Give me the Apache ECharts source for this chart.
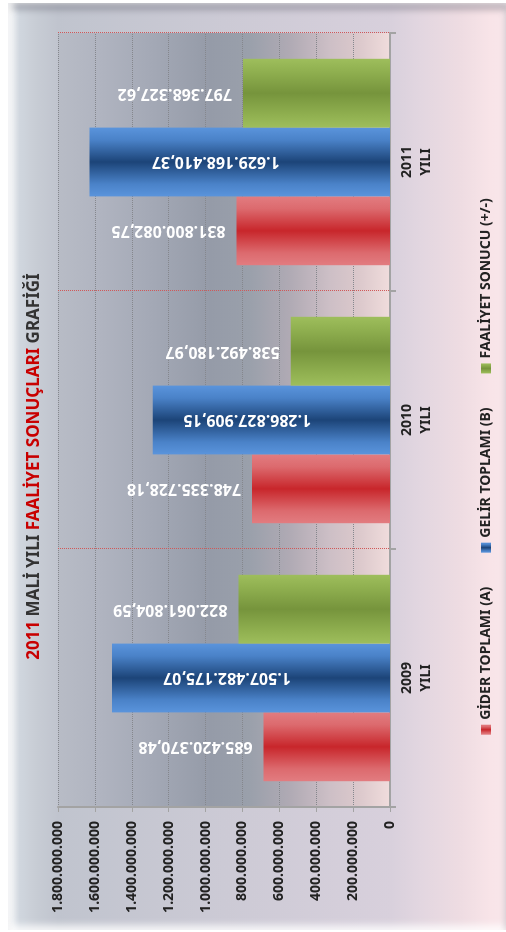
<!DOCTYPE html>
<html>
<head>
<meta charset="utf-8">
<script src="https://cdn.jsdelivr.net/npm/echarts@6/dist/echarts.min.js"></script>
<style>
  html, body { margin: 0; padding: 0; background: #fff; }
  body { width: 506px; height: 932px; position: relative; overflow: hidden; }
  /* the chart is laid out as a 932x506 column chart, then turned a quarter to the left */
  #wrap {
    position: absolute; left: -213px; top: 213px;
    width: 932px; height: 506px; background: #fff;
    transform: rotate(-90deg);
  }
  #chart { position: absolute; left: 2px; top: 8px; width: 927px; height: 498px; }
  #bevel {
    position: absolute; left: 2px; top: 8px; width: 927px; height: 498px; pointer-events: none;
    box-shadow: inset 0 5px 6px rgba(255,255,255,0.75), inset -7px 0 6px rgba(80,80,95,0.35), inset 6px 0 6px rgba(255,255,255,0.6);
  }
</style>
</head>
<body>
<div id="wrap">
  <div id="chart"></div>
  <div id="bevel"></div>
</div>
<script>
const years = ['2009', '2010', '2011']
const seriesNames = ['GİDER TOPLAMI (A)', 'GELİR TOPLAMI (B)', 'FAALİYET SONUCU (+/-)']
const giderValues = [685420370.48, 748335728.18, 831800082.75]
const gelirValues = [1507482175.07, 1286827909.15, 1629168410.37]
const faaliyetValues = [822061804.59, 538492180.97, 797368327.62]
const axisMin = 0
const axisMax = 1800000000
const axisStep = 200000000

const FONT = 'Noto Sans'

let groupDots = (s) => s.replace(/\B(?=(\d{3})+(?!\d))/g, '.')
let moneyText = (v) => {
  let parts = v.toFixed(2).split('.')
  return groupDots(parts[0]) + ',' + parts[1]
}

let barFill = (edge, mid, dark) => new echarts.graphic.LinearGradient(0, 0, 1, 0, [
  {offset: 0, color: edge},
  {offset: 0.18, color: mid},
  {offset: 0.5, color: dark},
  {offset: 0.82, color: mid},
  {offset: 1, color: edge}
])

let sideLabel = {
  show: true,
  position: 'top',
  rotate: 90,
  align: 'left',
  verticalAlign: 'middle',
  distance: 11,
  color: '#fff',
  fontFamily: FONT,
  fontWeight: 'bold',
  fontSize: 16,
  formatter: (p) => moneyText(p.value)
}

let chartInstance = echarts.init(document.getElementById('chart'))
const option = {
  backgroundColor: new echarts.graphic.LinearGradient(0, 0, 0, 1, [
    {offset: 0, color: '#eef1f4'},
    {offset: 0.024, color: '#d0d6de'},
    {offset: 0.054, color: '#c8cdd5'},
    {offset: 0.1, color: '#c0c4ce'},
    {offset: 0.767, color: '#d8d0dc'},
    {offset: 0.827, color: '#e2d6e0'},
    {offset: 0.908, color: '#eedce2'},
    {offset: 0.968, color: '#f8e4e8'},
    {offset: 1, color: '#f8e6ea'}
  ]),
  animation: false,
  textStyle: {fontFamily: FONT},
  title: {
    left: 'center',
    top: 18,
    padding: 0,
    text: '{r|2011} {d|MALİ YILI} {r|FAALİYET SONUÇLARI} {d|GRAFİĞİ}',
    textStyle: {
      fontFamily: FONT,
      fontWeight: 'bold',
      fontSize: 17,
      rich: {
        r: {color: '#c80000', fontFamily: FONT, fontWeight: 'bold', fontSize: 17},
        d: {color: '#333', fontFamily: FONT, fontWeight: 'bold', fontSize: 17}
      }
    }
  },
  legend: {
    data: seriesNames,
    left: 'center',
    top: 471,
    padding: 0,
    icon: 'rect',
    itemWidth: 10,
    itemHeight: 10,
    itemGap: 34,
    textStyle: {fontFamily: FONT, fontWeight: 'bold', fontSize: 14, color: '#222'}
  },
  grid: {
    left: 123,
    right: 30,
    top: 50,
    bottom: 116,
    show: true,
    borderWidth: 0,
    backgroundColor: new echarts.graphic.LinearGradient(0, 0, 0, 1, [
      {offset: 0, color: '#b8bcc6'},
      {offset: 0.127, color: '#b0b4c0'},
      {offset: 0.277, color: '#a4a9b6'},
      {offset: 0.458, color: '#959ba8'},
      {offset: 0.578, color: '#9aa0ab'},
      {offset: 0.699, color: '#b0aab4'},
      {offset: 0.819, color: '#cdbfc6'},
      {offset: 0.91, color: '#dcc9cc'},
      {offset: 1, color: '#f0dcdc'}
    ])
  },
  xAxis: {
    type: 'category',
    data: years,
    axisLine: {lineStyle: {color: '#a3a3a3', width: 2}},
    axisTick: {show: true, length: 6, lineStyle: {color: '#a3a3a3', width: 2}},
    splitLine: {show: true, lineStyle: {color: '#d05858', type: 'dotted', width: 1}},
    axisLabel: {
      margin: 8,
      color: '#222',
      fontFamily: FONT,
      fontWeight: 'bold',
      fontSize: 14,
      lineHeight: 19,
      formatter: (v) => v + '\nYILI'
    }
  },
  yAxis: {
    type: 'value',
    min: axisMin,
    max: axisMax,
    interval: axisStep,
    axisLine: {show: true, lineStyle: {color: '#a3a3a3', width: 2}},
    axisTick: {show: true, length: 5, lineStyle: {color: '#a3a3a3'}},
    splitLine: {show: true, lineStyle: {color: '#85878d', type: 'dotted', width: 1}},
    axisLabel: {
      margin: 14,
      color: '#222',
      fontFamily: FONT,
      fontWeight: 'bold',
      fontSize: 14,
      formatter: (v) => groupDots(String(v))
    }
  },
  series: [
    {
      name: seriesNames[0],
      type: 'bar',
      data: giderValues,
      barGap: '0%',
      barCategoryGap: '20%',
      itemStyle: {color: barFill('#e27c80', '#dc6a6e', '#c8262b')},
      label: sideLabel
    },
    {
      name: seriesNames[1],
      type: 'bar',
      data: gelirValues,
      barGap: '0%',
      barCategoryGap: '20%',
      itemStyle: {color: barFill('#5a94dc', '#4a82c8', '#1c4478')},
      label: {
        show: true,
        position: 'inside',
        rotate: 90,
        align: 'center',
        verticalAlign: 'middle',
        offset: [24, 0],
        color: '#fff',
        fontFamily: FONT,
        fontWeight: 'bold',
        fontSize: 16,
        formatter: (p) => moneyText(p.value)
      }
    },
    {
      name: seriesNames[2],
      type: 'bar',
      data: faaliyetValues,
      barGap: '0%',
      barCategoryGap: '20%',
      itemStyle: {color: barFill('#9ebe5c', '#90b050', '#76943c')},
      label: sideLabel
    }
  ]
}
chartInstance.setOption(option)
</script>
</body>
</html>
